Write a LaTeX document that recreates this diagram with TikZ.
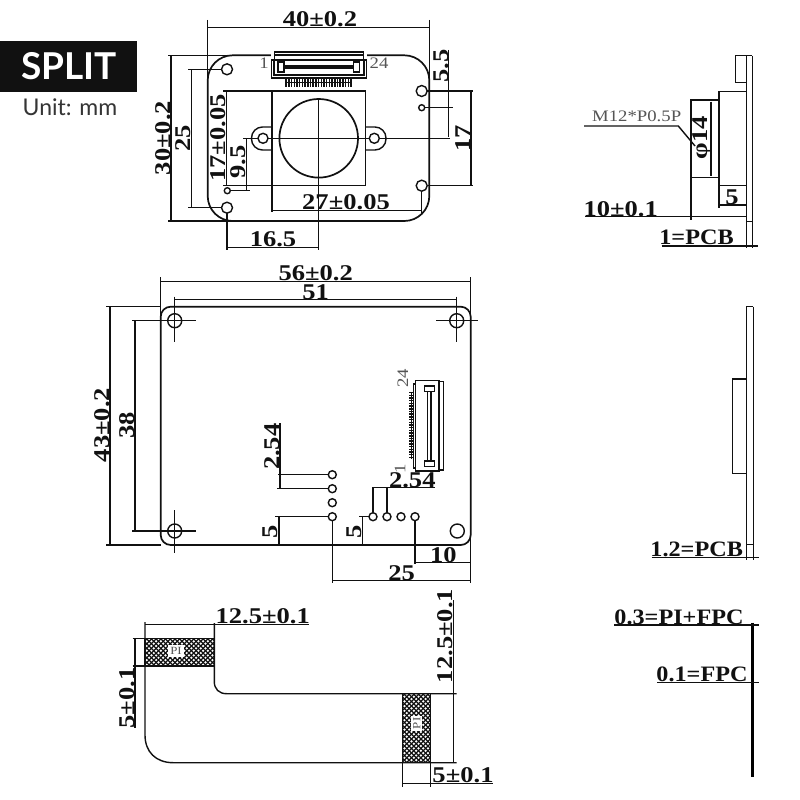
\documentclass[tikz,border=0pt]{standalone}
\usepackage{fontspec}
\newfontfamily\dimf[FakeStretch=1.18]{Liberation Serif}
\newfontfamily\dimg[FakeStretch=1.1]{Liberation Serif}
\newfontfamily\thinf[FakeStretch=1.17]{Liberation Serif}
\newfontfamily\latof{Lato}
\definecolor{inkb}{HTML}{111111}
\definecolor{thingray}{HTML}{555555}
\tikzset{
  ln/.style={line width=1.4pt,draw=inkb,line cap=butt},
  fine/.style={line width=1pt,draw=inkb},
  heavy/.style={line width=1.7pt,draw=inkb},
  dimt/.style={font=\dimf\bfseries\fontsize{22.5}{22.5}\selectfont,text=inkb,inner sep=0pt},
  labt/.style={font=\dimg\bfseries\fontsize{22}{22}\selectfont,text=inkb,inner sep=0pt},
  thint/.style={font=\thinf\fontsize{16}{16}\selectfont,text=thingray,inner sep=0pt},
  rot/.style={rotate=90},
  hole/.style={line width=1.4pt,draw=inkb,fill=white}
}
\newcommand{\hatchbox}[4]{%
  \fill[white] (#1,#2) rectangle (#3,#4);
  \begin{scope}
    \clip (#1,#2) rectangle (#3,#4);
    \foreach \k in {-20,...,40} {
      \draw[line width=1.25pt,draw=inkb] ({#1+\k*4.7-60},#2) -- ({#1+\k*4.7+40},{#2+100});
      \draw[line width=1.25pt,draw=inkb] ({#1+\k*4.7+40},#2) -- ({#1+\k*4.7-60},{#2+100});
    }
  \end{scope}
  \draw[ln] (#1,#2) rectangle (#3,#4);}
\begin{document}
\begin{tikzpicture}[x=1pt,y=-1pt]
\useasboundingbox (0,0) rectangle (800,800);
\fill[white] (0,0) rectangle (800,800);

% badge
\fill[inkb] (0,41) rectangle (137,92);
\node[font=\latof\bfseries\fontsize{37}{37}\selectfont,text=white,inner sep=0pt] (split) at (69,66.5) {SPLIT};
\node[font=\latof\fontsize{23}{24}\selectfont,text=inkb!85,inner sep=0pt] (unit) at (70,107) {Unit: mm};

% ===== top view =====
\draw[heavy,rounded corners=25pt] (207.7,55.3) rectangle (429.3,221);
\draw[ln] (207.7,20) -- (207.7,80);
\draw[ln] (429.3,20) -- (429.3,80);
\draw[ln] (207.7,27.3) -- (429.3,27.3);
\node[dimt] (d40) at (320,19.5) {40±0.2};
\draw[ln] (168,55.3) -- (274,55.3);
\draw[ln] (168,221) -- (270,221);
\draw[ln] (171,55.3) -- (171,221);
\node[dimt,rot] (d30) at (163.5,138) {30±0.2};
\draw[ln] (188,69.3) -- (222,69.3);
\draw[ln] (188,207.7) -- (222,207.7);
\draw[ln] (191.7,69.3) -- (191.7,207.7);
\node[dimt,rot] (d25) at (183.5,138) {25};
% holder
\draw[ln] (272,91) rectangle (365.7,185.7);
\draw[ln,rounded corners=11pt] (272,127) -- (251.5,127) -- (251.5,150) -- (272,150);
\draw[ln,rounded corners=11pt] (365.7,127) -- (386,127) -- (386,150) -- (365.7,150);
\draw[heavy] (318.7,138.3) circle (39.3);
\draw[ln] (243,138.3) -- (450,138.3);
\draw[ln] (318.7,99) -- (318.7,250);
\draw[hole] (263,138.3) circle (5);
\draw[hole] (374.3,138.3) circle (5);
% ext lines
\draw[ln] (223,91) -- (272,91);
\draw[ln] (223,185.7) -- (272,185.7);
\draw[ln] (427,91) -- (473,91);
\draw[ln] (421.7,185.7) -- (473,185.7);
\draw[ln] (471,91) -- (471,185.7);
\node[dimt,rot] (d17r) at (462.7,138) {17};
\draw[ln] (448.3,50) -- (448.3,137);
\draw[ln] (422,107.7) -- (452.7,107.7);
\node[dimt,rot] (d55) at (441,65.7) {5.5};
\draw[ln] (226.7,91) -- (226.7,185.7);
\node[dimt,rot] (d17l) at (218.5,138) {17±0.05};
\draw[ln] (246.7,138.3) -- (246.7,190.7);
\draw[ln] (227,190.7) -- (250,190.7);
\node[dimt,rot] (d95) at (238.5,161.7) {9.5};
\draw[ln] (272,185.7) -- (272,212);
\draw[ln] (421.7,185.7) -- (421.7,213);
\draw[ln] (272,210.7) -- (421.7,210.7);
\node[dimt] (d27) at (346,202.5) {27±0.05};
\draw[ln] (227,207) -- (227,250);
\draw[ln] (227,247.3) -- (318.7,247.3);
\node[dimt] (d165) at (273,239) {16.5};
\draw[hole] (227,69.3) circle (5.5);
\draw[hole] (227,207.7) circle (5.5);
\draw[hole] (421.7,91) circle (5.5);
\draw[hole] (421.7,185.7) circle (5.5);
\draw[hole] (421.7,107.7) circle (3);
\draw[hole] (227.3,190.7) circle (3);
% connector top
\fill[white] (271.3,50) rectangle (366.7,88);
\draw[ln] (274.3,52) rectangle (363.3,60);
\draw[ln] (274.3,55) -- (363.3,55);
\draw[ln] (271.3,60) rectangle (366.7,78);
\draw[ln] (274,60) rectangle (364,75);
\draw[ln] (278,62) rectangle (284,72);
\draw[ln] (353.5,62) rectangle (359.5,72);
\fill[inkb] (283,65) rectangle (354,69);
\foreach \k in {0,...,24} { \draw[line width=1.5pt,draw=inkb] ({286.2+\k*2.7},78) -- ({286.2+\k*2.7},87); }
\draw[fine] (285.7,82) -- (351.7,82);
\node[thint] (c1) at (264,63) {1};
\node[thint] (c24) at (379,63) {24};

% ===== side view top =====
\draw[ln] (746.7,55.7) -- (746.7,248);
\draw[ln] (752.3,55.7) -- (752.3,248);
\draw[ln] (746.7,55.7) -- (752.3,55.7);
\draw[ln] (746.7,221.7) -- (752.3,221.7);
\draw[ln] (735.3,55.7) rectangle (746.7,82.3);
\draw[ln] (719,91.7) rectangle (746.7,185.7);
\draw[ln] (691,100) rectangle (719,177.3);
\draw[ln] (691,177.3) -- (691,220);
\draw[ln] (719,185.7) -- (719,208);
\draw[ln] (711,101.7) -- (711,176);
\node[dimt,rot] (dphi) at (702.3,138) {φ14};
\node[thint] (m12) at (636.7,116) {M12*P0.5P};
\draw[ln] (584,126) -- (678.3,126) -- (695,146);
\draw[ln] (719,205) -- (746.7,205);
\node[dimt] (d5s) at (732,197) {5};
\draw[ln] (585,216.7) -- (746.7,216.7);
\node[dimt] (d10) at (620.7,209) {10±0.1};
\draw[ln] (661.7,246) -- (758,246);
\node[labt] (d1pcb) at (696.5,237.7) {1=PCB};

% ===== main view =====
\draw[heavy,rounded corners=10pt] (160.7,306.7) rectangle (470.7,545);
\draw[ln] (160.7,277) -- (160.7,320);
\draw[ln] (470.7,277) -- (470.7,583);
\draw[ln] (160.7,281.7) -- (470.7,281.7);
\node[dimt] (d56) at (315.7,273.5) {56±0.2};
\draw[ln] (174.3,299.3) -- (456.7,299.3);
\draw[ln] (174.3,296.7) -- (174.3,341.7);
\draw[ln] (456.7,296.7) -- (456.7,341.7);
\node[dimt] (d51) at (315.7,292) {51};
\draw[ln] (132.3,320.7) -- (196,320.7);
\draw[ln] (436,320.7) -- (478.3,320.7);
\draw[ln] (132.3,531) -- (196,531);
\draw[ln] (174.3,510) -- (174.3,552.7);
\draw[ln] (174.7,320.7) circle (7);
\draw[ln] (456.7,320.7) circle (7);
\draw[ln] (174.7,531) circle (7);
\draw[ln] (457.3,531) circle (7);
\draw[ln] (106,306.7) -- (160.7,306.7);
\draw[ln] (106,545) -- (160.7,545);
\draw[ln] (110,306.7) -- (110,545);
\node[dimt,rot] (d43) at (102.5,425) {43±0.2};
\draw[ln] (135,320.7) -- (135,531);
\node[dimt,rot] (d38) at (127,425.7) {38};
% connector main
\draw[ln] (415.7,380.7) rectangle (439,471);
\draw[ln] (439,381.7) -- (443.7,381.7) -- (443.7,470) -- (439,470);
\draw[ln] (413.3,384) rectangle (415.7,468);
\foreach \k in {0,...,24} { \draw[line width=1.5pt,draw=inkb] (409,{392.6+\k*2.7}) -- (413.5,{392.6+\k*2.7}); }
\draw[fine] (411,392) -- (411,459);
\draw[ln] (424.3,386) rectangle (434.3,391.7);
\draw[ln] (424.3,461) rectangle (434.3,466.7);
\draw[line width=1.25pt,draw=inkb] (427.5,391.7) -- (427.5,461);
\draw[line width=1.25pt,draw=inkb] (431,391.7) -- (431,461);
\node[thint,rot] (m24) at (402.7,378.3) {24};
\node[thint,rot] (m1) at (400,469) {1};
% pads
\draw[ln] (278,474.7) -- (332,474.7);
\draw[ln] (277,488.7) -- (332,488.7);
\draw[ln] (275,516.7) -- (332,516.7);
\draw[ln] (280,423.3) -- (280,488.3);
\node[dimt,rot] (d254a) at (272.5,446.7) {2.54};
\draw[ln] (279,516.7) -- (279,545);
\node[dimt,rot] (d5a) at (270.5,532) {5};
\draw[ln] (359,516.7) -- (373,516.7);
\draw[ln] (362.3,516.7) -- (362.3,545);
\node[dimt,rot] (d5b) at (353.8,532) {5};
\draw[ln] (373,487.7) -- (435,487.7);
\draw[ln] (373,487) -- (373,516.7);
\draw[ln] (387,487) -- (387,516.7);
\node[dimt] (d254b) at (412.3,480) {2.54};
\draw[ln] (415,516) -- (415,564);
\draw[ln] (415,562.7) -- (470.7,562.7);
\node[dimt] (d10m) at (443.3,555) {10};
\draw[ln] (332.3,516) -- (332.3,582.7);
\draw[ln] (332.3,580.7) -- (470.7,580.7);
\node[dimt] (d25m) at (401.7,572.7) {25};
\foreach \y in {474.7,488.7,502.7,516.7} { \draw[hole] (332.3,\y) circle (4); }
\foreach \x in {373,387,401,415} { \draw[hole] (\x,516.7) circle (4); }

% ===== side view middle =====
\draw[ln] (746.3,306.7) -- (746.3,560);
\draw[ln] (753.3,306.7) -- (753.3,560);
\draw[ln] (746.3,306.7) -- (753.3,306.7);
\draw[ln] (746.3,544.3) -- (753.3,544.3);
\draw[ln] (732.3,379) rectangle (746.3,473.3);
\draw[ln] (651.7,557.3) -- (759.3,557.3);
\node[labt] (d12) at (696.7,549) {1.2=PCB};

% ===== FPC =====
\hatchbox{145}{638.3}{214.3}{666}
\hatchbox{402.7}{693.7}{430.7}{762.7}
\draw[ln] (145,622) -- (145,735) .. controls (145,752) and (156,762.7) .. (173.3,762.7) -- (456.7,762.7);
\draw[ln] (214.3,623) -- (214.3,681.7) .. controls (214.3,689) and (219,693.7) .. (226.7,693.7) -- (456.7,693.7);
\draw[ln] (145,624.3) -- (309.3,624.3);
\node[dimt] (d125a) at (262.7,616) {12.5±0.1};
\draw[ln] (132.7,638.3) -- (145,638.3);
\draw[ln] (132.7,666) -- (145,666);
\draw[ln] (135,638.3) -- (135,727.7);
\node[dimt,rot] (d5c) at (127,698) {5±0.1};
\draw[ln] (453.3,600) -- (453.3,762.7);
\node[dimt,rot] (d125b) at (445,636) {12.5±0.1};
\draw[ln] (402.7,762.7) -- (402.7,786.7);
\draw[ln] (430.7,762.7) -- (430.7,786.7);
\draw[ln] (402.7,783.3) -- (493,783.3);
\node[dimt] (d5d) at (463,775.5) {5±0.1};
\node[thint,fill=white,inner sep=2pt,font=\thinf\fontsize{11}{11}\selectfont] (pia) at (176,651) {PI};
\node[thint,fill=white,inner sep=2pt,rot,font=\thinf\fontsize{11}{11}\selectfont] (pib) at (416.7,723.3) {PI};

% ===== FPC side =====
\draw[line width=3pt,draw=black] (752.3,622.7) -- (752.3,776.7);
\draw[ln] (614,625) -- (759.3,625);
\node[labt] (d03) at (679,617.5) {0.3=PI+FPC};
\draw[ln] (657.3,682.3) -- (759.3,682.3);
\node[labt] (d01) at (702,674.5) {0.1=FPC};
\end{tikzpicture}
\end{document}
